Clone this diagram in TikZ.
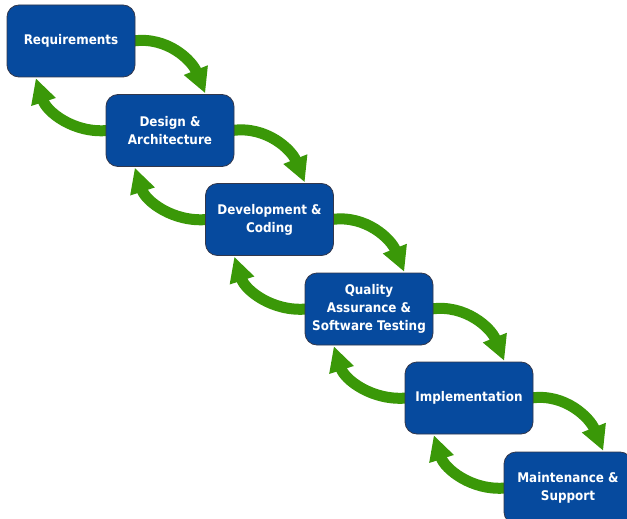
\documentclass[tikz,border=0pt]{standalone}
\usepackage{fontspec}
\newfontfamily\lbl{DejaVu Sans Condensed Bold}
\usetikzlibrary{arrows.meta,calc}
\definecolor{boxblue}{RGB}{6,74,158}
\definecolor{boxedge}{RGB}{50,55,75}
\definecolor{arrgreen}{RGB}{58,152,8}
\tikzset{
  phase/.style={draw=boxedge, line width=0.8pt, fill=boxblue, rounded corners=12pt,
    minimum width=128pt, minimum height=72pt, inner sep=0pt, text=white,
    font=\lbl\fontsize{13.3}{18}\selectfont, align=center},
  flow/.style={draw=arrgreen, line width=11pt, -{Triangle[length=25pt,width=24pt]}}
}
\begin{document}
\begin{tikzpicture}[x=1pt,y=-1pt]
\clip (0,0) rectangle (627,519);
\fill[white] (0,0) rectangle (627,519);
% node positions
\coordinate (p1) at (71,41);
\coordinate (p2) at (170,130.5);
\coordinate (p3) at (269.5,219.5);
\coordinate (p4) at (369,309);
\coordinate (p5) at (469,398);
\coordinate (p6) at (568,488);
% invisible placeholders for geometry
\foreach \i in {1,...,6} {
  \node[minimum width=128pt, minimum height=72pt, inner sep=0pt] (g\i) at (p\i) {};
}
% arrows
\foreach \i/\j in {1/2,2/3,3/4,4/5,5/6} {
  \draw[flow] ($(g\i.east)+(-2,0)$) to[out=8,in=112] ($(g\j.north east)+(-29,-1)$);
  \draw[flow] ($(g\j.west)+(2,0)$) to[out=185,in=-72] ($(g\i.south west)+(29,1)$);
}
% boxes
\node[phase] (req) at (p1) {Requirements};
\node[phase] (des) at (p2) {Design \&\\Architecture};
\node[phase] (dev) at (p3) {Development \&\\Coding};
\node[phase] (qa) at (p4) {Quality\\Assurance \&\\Software Testing};
\node[phase] (imp) at (p5) {Implementation};
\node[phase] (mnt) at (p6) {Maintenance \&\\Support};
\end{tikzpicture}
\end{document}
